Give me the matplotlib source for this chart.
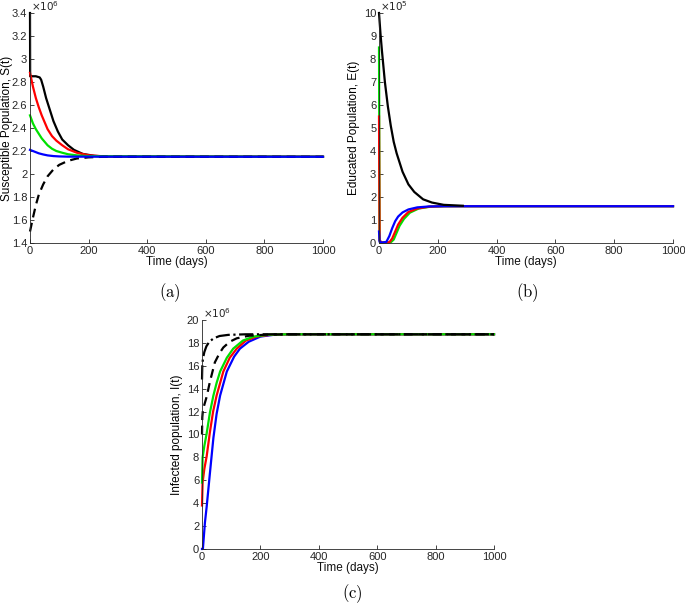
import numpy as np
import matplotlib
matplotlib.use("Agg")
import matplotlib.pyplot as plt

plt.rcParams['font.family'] = ['Liberation Sans', 'DejaVu Sans']
plt.rcParams['mathtext.fontset'] = 'cm'

# ---- (a) susceptible S(t), x1e6 ----
ta_black = [0, 0.5, 5, 20, 33, 38, 45, 55, 65, 80, 95, 110, 130, 150, 180, 220, 270, 1000]
sa_black = [3.4, 2.85, 2.85, 2.85, 2.84, 2.82, 2.76, 2.66, 2.58, 2.46, 2.37, 2.30, 2.25, 2.21, 2.175, 2.158, 2.151, 2.15]
ta_red = [0, 10, 20, 30, 40, 50, 60, 75, 90, 110, 130, 160, 200, 250, 1000]
sa_red = [2.88, 2.76, 2.66, 2.58, 2.51, 2.45, 2.39, 2.33, 2.29, 2.25, 2.215, 2.185, 2.163, 2.154, 2.15]
ta_green = [0, 10, 20, 30, 40, 50, 60, 75, 90, 110, 130, 160, 200, 1000]
sa_green = [2.51, 2.44, 2.39, 2.35, 2.31, 2.28, 2.25, 2.22, 2.20, 2.185, 2.172, 2.162, 2.155, 2.15]
ta_blue = [0, 10, 20, 30, 45, 60, 80, 100, 130, 1000]
sa_blue = [2.21, 2.20, 2.19, 2.18, 2.17, 2.162, 2.156, 2.153, 2.151, 2.15]
ta_dash = [0, 10, 20, 30, 45, 60, 80, 100, 130, 160, 200, 250, 1000]
sa_dash = [1.50, 1.62, 1.73, 1.82, 1.91, 1.98, 2.04, 2.08, 2.115, 2.135, 2.145, 2.15, 2.15]
yticks_a = [1.4, 1.6, 1.8, 2.0, 2.2, 2.4, 2.6, 2.8, 3.0, 3.2, 3.4]
ylabels_a = ['1.4', '1.6', '1.8', '2', '2.2', '2.4', '2.6', '2.8', '3', '3.2', '3.4']

# ---- (b) educated E(t), x1e5 ----
tb_black = [0, 5, 10, 20, 30, 40, 50, 60, 80, 100, 120, 150, 180, 220, 285]
eb_black = [10, 9.1, 8.35, 7.0, 5.95, 5.1, 4.4, 3.9, 3.1, 2.55, 2.22, 1.9, 1.76, 1.66, 1.62]
tb_green = [0, 2, 10, 40, 50, 60, 70, 85, 105, 135, 175, 230, 1000]
eb_green = [8.5, 0.1, 0.02, 0.03, 0.15, 0.45, 0.75, 1.05, 1.32, 1.5, 1.58, 1.6, 1.6]
tb_red = [0, 2, 10, 35, 45, 55, 65, 80, 100, 130, 170, 220, 1000]
eb_red = [5.5, 0.1, 0.02, 0.03, 0.2, 0.5, 0.8, 1.1, 1.35, 1.5, 1.58, 1.6, 1.6]
tb_blue = [0, 2, 10, 25, 35, 45, 55, 65, 80, 100, 130, 170, 220, 1000]
eb_blue = [0.5, 0.05, 0.02, 0.05, 0.3, 0.65, 0.95, 1.15, 1.33, 1.46, 1.55, 1.59, 1.6, 1.6]

# ---- (c) infected I(t), x1e6 ----
tc_blue = [0, 3, 10, 16, 27, 39, 50, 62, 85, 110, 130, 160, 200, 250, 300, 1000]
ic_blue = [0, 0, 2.3, 3.7, 6.6, 9.7, 11.8, 13.4, 15.5, 16.8, 17.5, 18.1, 18.55, 18.72, 18.75, 18.75]
tc_red = [0, 2, 8, 16, 27, 38, 50, 73, 95, 119, 150, 187, 240, 300, 1000]
ic_red = [3.8, 5.8, 7.0, 8.1, 10.2, 12.0, 13.4, 15.5, 16.7, 17.5, 18.2, 18.55, 18.72, 18.75, 18.75]
tc_green = [0, 2, 8, 16, 27, 39, 50, 62, 85, 107, 140, 176, 230, 300, 1000]
ic_green = [5.8, 8.0, 9.0, 10.1, 11.9, 13.4, 14.5, 15.5, 16.7, 17.5, 18.2, 18.55, 18.72, 18.75, 18.75]
tc_dash = [0, 1, 3, 8, 16, 27, 44, 60, 73, 95, 119, 160, 220, 300, 1000]
ic_dash = [10.0, 11.5, 12.1, 12.6, 13.3, 14.6, 16.3, 17.1, 17.6, 18.1, 18.4, 18.62, 18.72, 18.75, 18.75]
tc_dashdot = [0, 1, 3, 8, 15, 25, 40, 60, 90, 150, 1000]
ic_dashdot = [14.8, 16.0, 16.6, 17.2, 17.7, 18.1, 18.4, 18.6, 18.7, 18.75, 18.75]

xticks = [0, 200, 400, 600, 800, 1000]

fig = plt.figure(figsize=(6.85, 6.05), dpi=100)
lw = 1.6
axcol = '#262626'
green = '#00e000'
dashed = (0, (4, 2.5))


def style(ax, ylim, yt, ylab, exp, label, lx):
    ax.set_xlim(0, 1000)
    ax.set_ylim(*ylim)
    ax.set_xticks(xticks)
    ax.set_yticks(yt)
    if ylab is not None:
        ax.set_yticklabels(ylab)
    for s in ['top', 'right']:
        ax.spines[s].set_visible(False)
    for s in ['left', 'bottom']:
        ax.spines[s].set_color(axcol)
        ax.spines[s].set_linewidth(0.6)
    ax.tick_params(direction='in', length=3, width=0.6, labelsize=8, colors=axcol, pad=2)
    ax.set_xlabel('Time (days)', fontsize=8.5, labelpad=0, color='#111111')
    ax.set_ylabel(label, fontsize=8.5)
    ax.yaxis.set_label_coords(lx, 0.5)
    ax.text(0.005, 1.0, exp, transform=ax.transAxes, fontsize=7.5, va='bottom', ha='left',
            color=axcol, math_fontfamily='dejavusans')
    for ln in ax.get_lines():
        ln.set_clip_on(False)


# (a)
ax1 = fig.add_axes([0.0438, 0.5983, 0.4277, 0.3802])
ax1.plot(ta_black, sa_black, color='black', lw=lw)
ax1.plot(ta_red, sa_red, color='red', lw=lw)
ax1.plot(ta_green, sa_green, color=green, lw=lw)
ax1.plot(ta_dash, sa_dash, color='black', lw=lw, linestyle=dashed)
ax1.plot(ta_blue, sa_blue, color='blue', lw=lw)
style(ax1, (1.4, 3.4), yticks_a, ylabels_a, r'$\times10^6$', 'Susceptible Population, S(t)', -0.058)
fig.text(170 / 685, 1 - 293 / 605, r'$\mathrm{(a)}$', fontsize=12, ha='center', va='center')

# (b)
ax2 = fig.add_axes([0.5533, 0.5983, 0.4292, 0.3802])
ax2.plot(tb_green, eb_green, color=green, lw=lw)
ax2.plot(tb_red, eb_red, color='red', lw=lw)
ax2.plot(tb_blue, eb_blue, color='blue', lw=lw)
ax2.plot(tb_black, eb_black, color='black', lw=lw)
style(ax2, (0, 10), list(range(0, 11)), None, r'$\times10^5$', 'Educated Population, E(t)', -0.065)
fig.text(527 / 685, 1 - 293 / 605, r'$\mathrm{(b)}$', fontsize=12, ha='center', va='center')

# (c)
ax3 = fig.add_axes([0.2949, 0.0926, 0.4263, 0.3785])
ax3.plot(tc_blue, ic_blue, color='blue', lw=lw)
ax3.plot(tc_red, ic_red, color='red', lw=lw)
ax3.plot(tc_green, ic_green, color=green, lw=lw)
ax3.plot(tc_dash, ic_dash, color='black', lw=lw, linestyle=dashed)
ax3.plot(tc_dashdot, ic_dashdot, color='black', lw=lw, linestyle='-.')
style(ax3, (0, 20), list(range(0, 21, 2)), None, r'$\times10^6$', 'Infected population, I(t)', -0.065)
fig.text(352 / 685, 1 - 594 / 605, r'$\mathrm{(c)}$', fontsize=12, ha='center', va='center')

fig.savefig('out.png', dpi=100)
